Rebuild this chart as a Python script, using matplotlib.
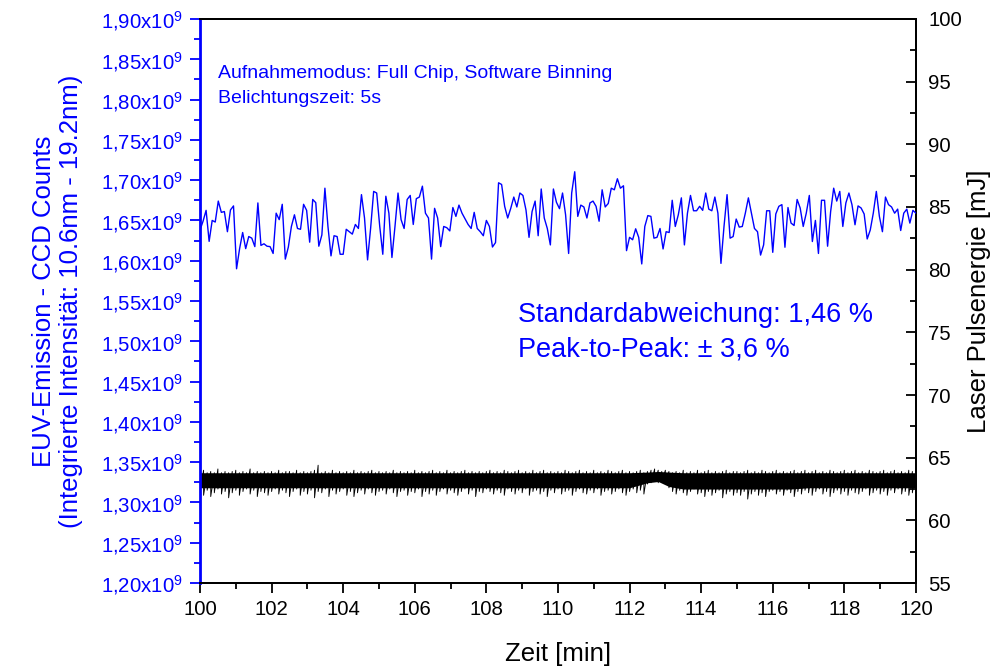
import numpy as np
import matplotlib
matplotlib.use("Agg")
import matplotlib.pyplot as plt
from matplotlib.ticker import MultipleLocator, FuncFormatter

plt.rcParams['font.family'] = ['Liberation Sans', 'DejaVu Sans']
plt.rcParams['mathtext.default'] = 'regular'

# EUV emission (CCD counts, in units of 1e9), one value every 5 s
euv_counts = [
    1.638, 1.649, 1.6625, 1.624, 1.650, 1.648, 1.674, 1.660, 1.661, 1.636,
    1.663, 1.668, 1.590, 1.615, 1.635, 1.615, 1.630, 1.628, 1.6175, 1.6717,
    1.619, 1.621, 1.618, 1.6175, 1.609, 1.659, 1.651, 1.670, 1.602, 1.617,
    1.6425, 1.657, 1.640, 1.639, 1.670, 1.6625, 1.623, 1.676, 1.672,
    1.618, 1.632, 1.690, 1.6425, 1.606, 1.631, 1.630, 1.608, 1.608, 1.639,
    1.636, 1.633, 1.645, 1.640, 1.682, 1.653, 1.601, 1.640, 1.686, 1.684,
    1.6425, 1.608, 1.680, 1.659, 1.604, 1.6425, 1.684, 1.651, 1.640, 1.676,
    1.681, 1.645, 1.677, 1.679, 1.6925, 1.659, 1.653, 1.602, 1.665, 1.653,
    1.6175, 1.6425, 1.641, 1.637, 1.666, 1.655, 1.669, 1.659, 1.652, 1.645,
    1.640, 1.660, 1.640, 1.636, 1.631, 1.650, 1.6425, 1.617, 1.6225, 1.6967,
    1.6946, 1.6675, 1.653, 1.665, 1.679, 1.6667, 1.684, 1.681, 1.663, 1.629,
    1.661, 1.674, 1.631, 1.689, 1.653, 1.640, 1.6196, 1.689, 1.6725,
    1.6646, 1.684, 1.657, 1.609, 1.684, 1.7104, 1.655, 1.669, 1.6667, 1.653,
    1.6717, 1.674, 1.6675, 1.649, 1.688, 1.6667, 1.671, 1.690, 1.688, 1.7017,
    1.690, 1.693, 1.6125, 1.629, 1.626, 1.6396, 1.629, 1.596, 1.6425, 1.656,
    1.655, 1.628, 1.629, 1.640, 1.6146, 1.636, 1.635, 1.675, 1.6425, 1.657,
    1.678, 1.6196, 1.659, 1.681, 1.662, 1.662, 1.6675, 1.6625, 1.684, 1.664,
    1.662, 1.679, 1.659, 1.5967, 1.6425, 1.682, 1.628, 1.630, 1.6517, 1.6417,
    1.6425, 1.659, 1.678, 1.659, 1.640, 1.636, 1.607, 1.6196, 1.662, 1.662,
    1.6104, 1.658, 1.6675, 1.6696, 1.6167, 1.666, 1.6467, 1.6437, 1.676,
    1.6654, 1.6425, 1.659, 1.681, 1.6238, 1.650, 1.609, 1.675, 1.675, 1.618,
    1.661, 1.690, 1.674, 1.686, 1.6425, 1.6717, 1.684, 1.6696, 1.6446, 1.668,
    1.6654, 1.658, 1.627, 1.638, 1.659, 1.686, 1.655, 1.636, 1.679, 1.6696,
    1.6667, 1.659, 1.664, 1.6375, 1.659, 1.664, 1.6467, 1.6625, 1.659,
]

# Laser pulse energy [mJ]: upper and lower extent of the trace every 0.1 min
laser_hi = [
    63.8, 64.0, 63.8, 63.9, 63.8, 64.1, 63.8, 63.9, 63.8, 63.9,
    64.0, 63.8, 63.9, 63.8, 64.1, 63.8, 63.9, 63.8, 63.9, 63.8,
    63.9, 63.8, 64.0, 63.8, 63.9, 63.9, 63.8, 64.0, 63.8, 63.9,
    63.8, 63.9, 64.0, 64.4, 63.8, 63.9, 63.8, 64.0, 63.8, 63.9,
    63.8, 63.9, 63.8, 64.0, 63.8, 63.9, 63.8, 63.9, 64.0, 63.8,
    63.9, 63.8, 63.9, 63.8, 64.0, 63.8, 63.9, 63.8, 63.9, 63.8,
    64.0, 63.8, 63.9, 63.8, 63.9, 64.0, 63.8, 63.9, 63.8, 64.0,
    63.8, 63.9, 63.8, 63.9, 64.0, 63.8, 63.9, 63.8, 63.9, 63.8,
    63.9, 64.0, 63.8, 63.9, 63.8, 64.0, 63.9, 63.8, 63.9, 64.0,
    63.8, 63.9, 63.8, 64.0, 63.8, 63.9, 64.0, 63.8, 63.9, 63.8,
    63.9, 63.8, 64.0, 63.9, 63.8, 63.9, 64.0, 63.8, 63.9, 63.8,
    64.0, 63.8, 63.9, 63.8, 64.0, 63.9, 63.8, 63.9, 64.0, 63.8,
    63.9, 63.8, 63.9, 64.0, 63.8, 63.9, 64.0, 64.1, 64.0, 63.9,
    64.0, 63.9, 63.8, 63.9, 63.8, 64.0, 63.8, 63.9, 63.8, 64.0,
    63.8, 63.9, 64.0, 63.8, 63.9, 63.8, 63.9, 64.0, 63.8, 63.9,
    63.9, 63.8, 63.9, 64.0, 63.8, 63.9, 63.8, 64.0, 63.9, 63.8,
    63.9, 64.0, 63.8, 63.9, 63.8, 63.9, 64.0, 63.8, 63.9, 64.0,
    63.8, 63.9, 64.0, 63.8, 63.9, 63.8, 64.0, 63.9, 63.8, 63.9,
    64.0, 63.8, 63.9, 64.0, 63.8, 63.9, 63.8, 64.0, 63.9, 63.8,
    63.9, 64.0, 63.8, 63.9, 64.0, 63.8, 63.9, 63.8, 64.0, 63.9,
    63.9,
]
laser_lo = [
    62.3, 62.0, 62.4, 61.9, 62.2, 62.5, 62.1, 62.3, 61.8, 62.2,
    62.4, 62.0, 62.3, 62.5, 62.1, 62.4, 61.9, 62.3, 62.2, 62.0,
    62.3, 62.5, 62.1, 62.4, 62.2, 61.9, 62.3, 62.5, 62.0, 62.3,
    62.1, 62.4, 61.8, 62.3, 62.2, 62.5, 61.9, 62.4, 62.1, 62.3,
    62.5, 62.0, 62.3, 61.9, 62.2, 62.4, 62.1, 62.5, 62.2, 62.0,
    62.3, 62.4, 62.1, 62.5, 62.2, 61.9, 62.3, 62.4, 62.0, 62.3,
    62.2, 62.5, 61.9, 62.3, 62.1, 62.4, 62.0, 62.3, 62.5, 62.1,
    62.4, 62.2, 62.0, 62.3, 62.5, 62.1, 62.4, 61.9, 62.3, 62.2,
    62.5, 62.3, 62.1, 62.4, 62.2, 62.0, 62.5, 62.3, 62.1, 62.4,
    62.2, 62.5, 62.0, 62.3, 62.4, 62.1, 62.3, 61.9, 62.4, 62.2,
    62.5, 62.1, 62.3, 62.4, 62.0, 62.3, 62.5, 62.2, 62.1, 62.4,
    62.2, 62.5, 62.0, 62.3, 62.4, 62.1, 62.3, 62.5, 62.2, 62.0,
    62.3, 62.5, 62.2, 62.4, 62.1, 62.9, 63.0, 63.1, 63.0, 63.1,
    63.0, 62.6, 62.3, 62.1, 62.4, 62.2, 62.0, 62.3, 62.5, 62.1,
    62.2, 61.9, 62.3, 62.0, 62.2, 62.4, 61.8, 62.1, 62.3, 62.0,
    62.2, 62.0, 62.3, 61.7, 62.1, 62.3, 62.0, 62.2, 61.9, 62.3,
    62.4, 62.1, 62.3, 62.0, 62.4, 62.2, 61.9, 62.3, 62.1, 62.4,
    62.2, 62.0, 62.3, 62.5, 62.1, 62.3, 61.9, 62.2, 62.4, 62.1,
    62.3, 62.0, 62.4, 62.2, 62.1, 62.3, 62.5, 62.0, 62.2, 62.4,
    62.1, 62.3, 62.0, 62.4, 62.2, 62.5, 62.1, 62.3, 62.0, 62.2,
    62.3,
]
# solid core of the laser trace
core_time = [100.0, 100.5, 101.0, 101.5, 102.0, 102.5, 103.0, 103.5, 104.0, 104.5,
             105.0, 105.5, 106.0, 106.5, 107.0, 107.5, 108.0, 108.5, 109.0, 109.5,
             110.0, 110.5, 111.0, 111.5, 112.0, 112.5, 112.8, 113.1, 113.5, 114.0,
             114.5, 115.0, 115.5, 116.0, 116.5, 117.0, 117.5, 118.0, 118.5, 119.0,
             119.5, 120.0]
core_top = [63.8, 63.8, 63.8, 63.8, 63.8, 63.8, 63.8, 63.8, 63.8, 63.8,
            63.8, 63.8, 63.8, 63.8, 63.8, 63.8, 63.8, 63.8, 63.8, 63.8,
            63.8, 63.8, 63.8, 63.8, 63.8, 63.85, 63.9, 63.85, 63.8, 63.8,
            63.8, 63.8, 63.8, 63.8, 63.8, 63.8, 63.8, 63.8, 63.8, 63.8,
            63.8, 63.8]
core_bottom = [62.6, 62.6, 62.6, 62.6, 62.6, 62.6, 62.6, 62.6, 62.6, 62.6,
               62.6, 62.6, 62.6, 62.6, 62.6, 62.6, 62.6, 62.6, 62.6, 62.6,
               62.6, 62.6, 62.6, 62.6, 62.6, 63.0, 63.1, 62.7, 62.5, 62.5,
               62.5, 62.5, 62.5, 62.5, 62.5, 62.6, 62.6, 62.6, 62.6, 62.6,
               62.6, 62.6]

euv_time = np.linspace(100, 120, len(euv_counts))
laser_time = np.linspace(100, 120, len(laser_hi))
# interleave the upper/lower extents into one continuous trace
t_trace = np.repeat(laser_time, 2)
e_trace = np.column_stack([laser_hi, laser_lo]).ravel()

BLUE = '#0000FF'

fig = plt.figure(figsize=(10.03, 6.68), dpi=100)
ax1 = fig.add_axes([0.1994, 0.1272, 0.7138, 0.8444])
ax2 = ax1.twinx()

ax1.plot(euv_time, euv_counts, color=BLUE, lw=1.0, zorder=3)
ax2.fill_between(core_time, core_bottom, core_top, color='black', lw=0)
ax2.plot(t_trace, e_trace, color='black', lw=0.65)

ax1.set_xlim(100, 120)
ax1.set_ylim(1.20, 1.90)
ax2.set_ylim(55, 100)

ax1.xaxis.set_major_locator(MultipleLocator(2))
ax1.xaxis.set_minor_locator(MultipleLocator(1))
ax1.yaxis.set_major_locator(MultipleLocator(0.05))
ax1.yaxis.set_minor_locator(MultipleLocator(0.025))
ax1.yaxis.set_major_formatter(FuncFormatter(
    lambda v, p: f"{v:.2f}".replace('.', ',') + r"x10$^{9}$"))
ax2.yaxis.set_major_locator(MultipleLocator(5))
ax2.yaxis.set_minor_locator(MultipleLocator(2.5))

ax1.tick_params(axis='x', which='major', direction='out', length=7.5, width=1.3, labelsize=14.7, pad=5)
ax1.tick_params(axis='x', which='minor', direction='out', length=4, width=1.3)
ax1.tick_params(axis='y', which='major', direction='out', length=7.5, width=1.3,
                color=BLUE, labelcolor=BLUE, labelsize=14.7, pad=5)
ax1.tick_params(axis='y', which='minor', direction='out', length=4, width=1.3, color=BLUE)
ax2.tick_params(axis='y', which='major', direction='in', length=7.5, width=1.3, labelsize=14.7, pad=9)
ax2.tick_params(axis='y', which='minor', direction='in', length=4, width=1.3)

for ax in (ax1, ax2):
    for s in ax.spines.values():
        s.set_linewidth(1.4)
ax2.spines['left'].set_visible(False)
ax1.spines['left'].set_color(BLUE)
ax1.spines['left'].set_linewidth(2.0)

ax1.set_xlabel('Zeit [min]', fontsize=18.5, labelpad=16)
ax1.set_ylabel('EUV-Emission - CCD Counts\n(Integrierte Intensität: 10.6nm - 19.2nm)',
               fontsize=18.5, color=BLUE, linespacing=1.15)
ax1.yaxis.set_label_coords(-0.163, 0.5)
ax2.set_ylabel('Laser Pulsenergie [mJ]', fontsize=18.5)
ax2.yaxis.set_label_coords(1.071, 0.5)

ax1.text(0.025, 0.903, 'Aufnahmemodus: Full Chip, Software Binning', transform=ax1.transAxes,
         fontsize=14, color=BLUE, va='center')
ax1.text(0.025, 0.859, 'Belichtungszeit: 5s', transform=ax1.transAxes,
         fontsize=14, color=BLUE, va='center')
ax1.text(0.444, 0.476, 'Standardabweichung: 1,46 %', transform=ax1.transAxes,
         fontsize=19.5, color=BLUE, va='center')
ax1.text(0.444, 0.414, 'Peak-to-Peak: ± 3,6 %', transform=ax1.transAxes,
         fontsize=19.5, color=BLUE, va='center')

ax1.set_zorder(ax2.get_zorder() + 1)
ax1.patch.set_visible(False)

fig.savefig('out.png', dpi=100)
